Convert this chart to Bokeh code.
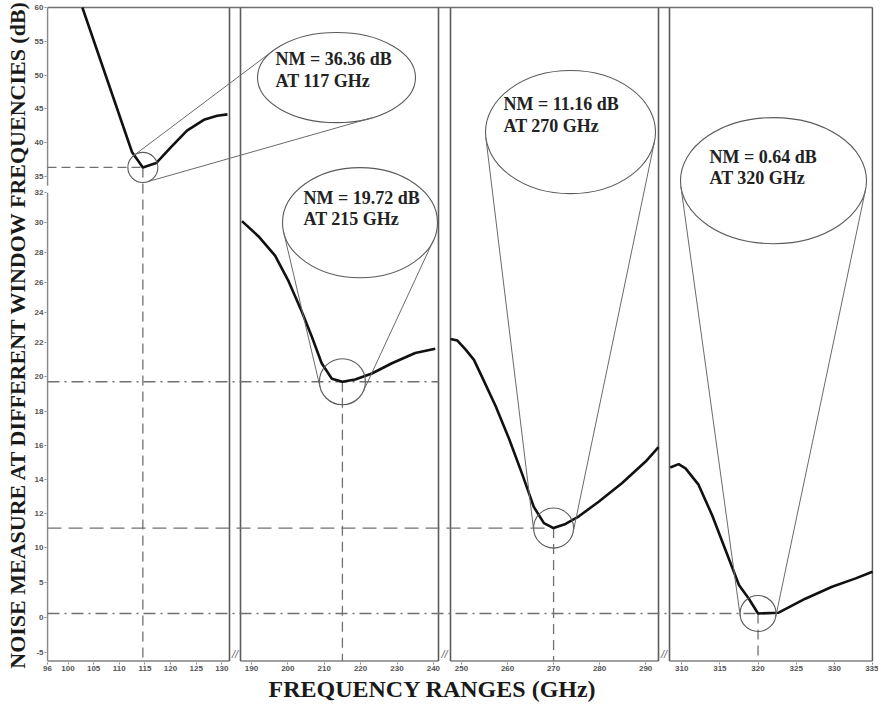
import numpy as np
from bokeh.plotting import figure
from bokeh.models import Range1d, FixedTicker, Title
from bokeh.core.properties import value
from bokeh.embed import file_html
from bokeh.resources import INLINE

# ---------------- data ----------------
P1_GHZ = [102.8, 112.5, 114.6, 117.2, 120.0, 123.2, 126.5, 129.1, 131.1]
P1_DB = [60.0, 38.6, 36.36, 37.0, 39.3, 41.8, 43.4, 44.0, 44.2]

P2_GHZ = [187.4, 191.9, 196.5, 200.2, 203.8, 206.6, 209.3, 212.1, 215.0, 218.5, 223.1, 228.6, 235.0, 240.5]
P2_DB = [30.1, 29.1, 27.8, 26.1, 24.1, 22.4, 20.8, 19.9, 19.72, 19.85, 20.2, 20.8, 21.4, 21.65]

P3_GHZ = [247.6, 249.1, 250.9, 252.7, 254.8, 257.4, 260.3, 263.2, 265.7, 267.9, 270.0,
          272.6, 275.5, 279.8, 284.9, 290.0, 292.8]
P3_DB = [22.25, 22.15, 21.6, 21.0, 19.8, 18.3, 16.4, 14.3, 12.4, 11.45, 11.16,
         11.4, 11.85, 12.7, 13.8, 15.05, 15.9]

P4_GHZ = [308.5, 309.6, 310.5, 312.2, 314.0, 315.7, 317.5, 318.8, 320.0, 322.7, 326.2, 329.7, 332.8, 335.0]
P4_DB = [14.7, 14.9, 14.65, 13.7, 11.9, 9.8, 4.7, 2.75, 0.64, 0.75, 2.75, 4.45, 5.65, 6.6]

NM_DB = [36.36, 19.72, 11.16, 0.64]
NM_GHZ = [117, 215, 270, 320]

X_TICKS = [[96, 100, 105, 110, 115, 120, 125, 130],
           [190, 200, 210, 220, 230, 240],
           [250, 260, 270, 280, 290],
           [310, 315, 320, 325, 330, 335]]
Y_TICKS = [-5, 0, 5, 10, 12, 14, 16, 18, 20, 22, 24, 26, 28, 30, 32, 35, 40, 45, 50, 55, 60]
PANEL_GHZ = [(96, 131.5), (187, 241.4), (247.6, 292.8), (308.4, 335)]

X_TITLE = "FREQUENCY RANGES (GHz)"
Y_TITLE = "NOISE MEASURE AT DIFFERENT WINDOW FREQUENCIES (dB)"

# ---------------- layout (broken axes) ----------------
PANEL_PX = [(47, 229), (240, 438), (450, 658), (669, 872)]
Y_BREAK_DB = [-5, 10, 22, 32, 35, 60]
Y_BREAK_POS = [8, 113, 318, 468, 484, 653]
# magnifier ellipses: centre x, centre y (screen-like units), semi axes
ELL = [(336, 583, 79, 45), (359.5, 438, 77.5, 55), (570, 528.5, 85, 61.5), (773, 480, 93, 63)]
CIRC_R = [15, 23, 20, 18]
TXT = [(275, 602, 580), (303, 463, 442), (503, 557, 535), (709, 504, 483)]
H_END = ["min", "panel", "min", "min"]
H_DASH = ["9 5", "12 5 2 5", "14 7", "12 5 2 5"]

CURVES = [(P1_GHZ, P1_DB), (P2_GHZ, P2_DB), (P3_GHZ, P3_DB), (P4_GHZ, P4_DB)]


def X(i, g):
    return np.interp(g, PANEL_GHZ[i], PANEL_PX[i])


def Y(d):
    return np.interp(d, Y_BREAK_DB, Y_BREAK_POS)


def tangents(c, r, e, a, b):
    th = np.linspace(0, 2 * np.pi, 7201)
    nx, ny = np.cos(th), np.sin(th)
    s = np.sqrt((a * nx) ** 2 + (b * ny) ** 2)
    f = (c[0] - e[0]) * nx + (c[1] - e[1]) * ny + r - s
    out = []
    for k in np.where(np.sign(f[:-1]) != np.sign(f[1:]))[0]:
        t = th[k] - f[k] * (th[k + 1] - th[k]) / (f[k + 1] - f[k])
        ux, uy = np.cos(t), np.sin(t)
        s_ = np.hypot(a * ux, b * uy)
        out.append(((c[0] + r * ux, c[1] + r * uy),
                    (e[0] + a * a * ux / s_, e[1] + b * b * uy / s_)))
    return out


p = figure(width=878, height=704, x_range=Range1d(46, 873), y_range=Range1d(-1.5, 655),
           output_backend="svg", toolbar_location=None,
           min_border_left=46, min_border_right=5, min_border_top=5, min_border_bottom=42)
p.grid.visible = False
p.outline_line_color = None
p.background_fill_color = "white"
p.border_fill_color = "white"

# ticks
xt, xl = [], {}
for i, ticks in enumerate(X_TICKS):
    for t in ticks:
        pos = round(float(X(i, t)), 3)
        xt.append(pos)
        xl[pos] = str(t)
p.xaxis.ticker = FixedTicker(ticks=xt, minor_ticks=[])
p.xaxis.major_label_overrides = xl

yt, yl = [], {}
for t in Y_TICKS:
    pos = round(float(Y(t)), 3)
    yt.append(pos)
    yl[pos] = str(t)
p.yaxis.ticker = FixedTicker(ticks=yt, minor_ticks=[])
p.yaxis.major_label_overrides = yl

for ax in (p.xaxis[0], p.yaxis[0]):
    ax.axis_line_color = None
    ax.major_tick_line_color = "#888888"
    ax.major_tick_in = 0
    ax.major_tick_out = 2
    ax.minor_tick_line_color = None
    ax.major_label_text_font = "Liberation Sans"
    ax.major_label_text_font_size = "8px"
    ax.major_label_text_font_style = "bold"
    ax.major_label_text_color = "#555555"
    ax.major_label_standoff = 1

p.yaxis.axis_label = Y_TITLE
p.yaxis.axis_label_text_font = "Liberation Serif"
p.yaxis.axis_label_text_font_style = "bold"
p.yaxis.axis_label_text_font_size = "22px"
p.yaxis.axis_label_text_color = "#1a1a1a"
p.yaxis.axis_label_standoff = 2

p.add_layout(Title(text=X_TITLE, align="left", offset=222, text_font="Liberation Serif",
                   text_font_style="bold", text_font_size="24px", text_color="#1a1a1a",
                   standoff=0), "below")

# frame pieces
top = Y(60)
p.segment(x0=[PANEL_PX[0][0]], y0=[top], x1=[PANEL_PX[3][1]], y1=[top], line_color="#707070", line_width=1.3)
bx0 = [a for a, b in PANEL_PX]
bx1 = [b for a, b in PANEL_PX]
p.segment(x0=bx0, y0=[0] * 4, x1=bx1, y1=[0] * 4, line_color="#808080", line_width=1.4)
vx = bx0[1:] + bx1
p.segment(x0=vx, y0=[0] * len(vx), x1=vx, y1=[top] * len(vx), line_color="#5c5c5c", line_width=1.6)
# y axis line with its break between 32 and 35
p.segment(x0=[bx0[0], bx0[0]], y0=[0, Y(35) - 9], x1=[bx0[0], bx0[0]], y1=[Y(32), top],
          line_color="#8a8a8a", line_width=1.6)
# axis break marks
p.text(x=[(bx1[k] + bx0[k + 1]) / 2 for k in range(3)], y=[7] * 3, text=["//"] * 3,
       text_font=value("Liberation Sans"), text_font_style="italic", text_font_size="11px",
       text_color="#666666", text_align="center", text_baseline="middle")

# curves, reference lines and magnifiers
for i, (g, d) in enumerate(CURVES):
    xs = X(i, np.array(g))
    ys = Y(np.array(d))
    k = int(np.argmin(d))
    mx, my = float(xs[k]), float(ys[k])
    xend = mx if H_END[i] == "min" else PANEL_PX[i][1]
    p.line([bx0[0], xend], [my, my], line_color="#707070", line_width=1.3, line_dash=H_DASH[i])
    p.line([mx, mx], [my, 0], line_color="#707070", line_width=1.3, line_dash="10 6")
    p.line(xs, ys, line_color="#111111", line_width=2.6)

    ex, ey, a, b = ELL[i]
    r = CIRC_R[i]
    p.ellipse(x=[mx], y=[my], width=[2 * r], height=[2 * r], fill_color=None,
              line_color="#5a5a5a", line_width=1.1)
    p.ellipse(x=[ex], y=[ey], width=[2 * a], height=[2 * b], fill_color=None,
              line_color="#5a5a5a", line_width=1.1)
    segs = tangents((mx, my), r, (ex, ey), a, b)
    p.segment(x0=[s[0][0] for s in segs], y0=[s[0][1] for s in segs],
              x1=[s[1][0] for s in segs], y1=[s[1][1] for s in segs],
              line_color="#6a6a6a", line_width=1.0)

    tx, ty1, ty2 = TXT[i]
    p.text(x=[tx, tx], y=[ty1, ty2],
           text=[f"NM = {NM_DB[i]:.2f} dB", f"AT {NM_GHZ[i]} GHz"],
           text_font=value("Liberation Serif"), text_font_style="bold", text_font_size="18px",
           text_color="#222222", text_align="left", text_baseline="middle")

open("out.html", "w").write(file_html(p, INLINE))
